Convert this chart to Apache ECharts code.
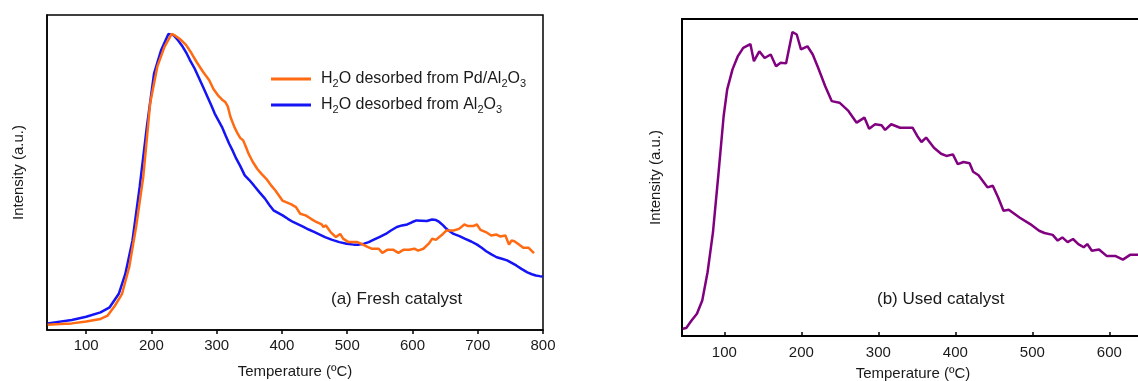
<!DOCTYPE html>
<html>
<head>
<meta charset="utf-8">
<script src="https://cdn.jsdelivr.net/npm/echarts@6/dist/echarts.min.js"></script>
<style>
  html, body { margin: 0; padding: 0; background: #fff; }
  #chart { width: 1138px; height: 381px; }
</style>
</head>
<body>
<div id="chart"></div>
<script>
// (a) Fresh catalyst: H2O desorbed from Pd/Al2O3
const pdTemp = [41, 60, 78, 100, 122, 133, 144, 155, 166, 176.5, 187.5, 198, 209, 220, 231, 236, 244, 253, 261, 269.5, 279, 288.6, 295, 302, 308, 313, 317, 321, 327, 332, 336, 340.6, 345, 348.8, 355, 362, 369, 376, 383, 390,
  400.7, 406.2, 414.4, 421.5, 428, 436.3, 444.5, 452.6, 460.9, 463.6, 467.4, 474.5, 482.7, 489.3, 493.7, 501.9, 515.5, 521, 531.9, 537.4, 548.3, 553.8, 562, 570.2, 578.4, 586.6, 594.8, 603, 608.5, 616.7, 624.9, 630.3, 635.8, 646.7, 652.2, 663.1, 671.3, 679.5, 685, 693.2, 698.7, 704.2, 712.4, 720.6, 728.8, 734.2, 742.4, 747.9, 751.7, 756.1, 761.6, 769.8, 778, 786.2];
const pdInt = [1.7, 1.9, 2.1, 2.7, 3.5, 4.6, 7.7, 11.5, 20, 32.7, 48.6, 71.9, 83.6, 89.9, 94, 93.5, 92.3, 90.5, 88, 85, 82, 79.3, 76.5, 74.5, 73.2, 72.4, 71, 67.7, 64.5, 62.4, 61, 60.2, 58, 56, 53.5, 51.2, 49.5, 48, 46, 44.3,
  41.1, 40.6, 39.9, 39.0, 36.9, 36.4, 35.3, 34.3, 33.5, 32.7, 33.2, 31.1, 29.5, 30.5, 29.0, 27.9, 27.9, 27.4, 26.3, 25.8, 25.8, 24.5, 25.5, 25.5, 24.5, 25.5, 25.5, 25.8, 25.2, 25.8, 27.4, 29.0, 28.6, 30.5, 31.6, 31.6, 32.1, 33.5, 33.0, 33.0, 33.5, 31.8, 31.1, 30.0, 30.3, 29.7, 30.0, 27.1, 28.4, 28.2, 27.4, 26.1, 26.1, 24.4];

// (a) Fresh catalyst: H2O desorbed from Al2O3
const alTemp = [41, 78, 100, 122, 136, 150, 160, 171, 182, 193, 204, 215, 226, 234, 241, 248, 254, 259, 266, 272, 279, 286, 292, 297, 303, 308, 314, 319, 325, 330, 336, 343, 350, 357, 366, 374, 381, 387, 394, 401, 409, 417, 425, 433, 441, 450, 458, 466, 477, 488, 499, 510, 518, 526, 533, 540, 550, 559, 567, 576, 584, 592, 599, 606, 614, 622, 630, 636, 641, 647, 652, 658, 663, 672, 680, 690, 699, 706, 713, 721, 729, 737, 745, 752, 759, 767, 776, 783, 789, 795, 800];
const alInt = [2.1, 3.2, 4.2, 5.6, 7.2, 11.5, 17.8, 28.4, 45.4, 64.5, 81.4, 88.9, 94, 93.6, 91.9, 89.9, 87.8, 85.7, 83.1, 80.4, 77.2, 74, 71.2, 68.7, 66.4, 64.5, 61.6, 59.2, 56.7, 54.4, 52.1, 49.1, 47.6, 45.9, 43.6, 41.7, 39.6, 38, 37.2, 36.4, 35.3, 34.3, 33.5, 32.7, 31.9, 31.1, 30.3, 29.5, 28.6, 27.9, 27.4, 27.1, 27.1, 27.4, 27.9, 28.6, 29.6, 30.5, 31.6, 32.7, 33.2, 33.5, 34.2, 34.8, 34.7, 34.6, 35.1, 34.9, 34.3, 33.2, 32.1, 31.2, 30.5, 29.8, 29, 28.1, 27.1, 26.1, 25, 24, 23.1, 22.6, 22.1, 21.3, 20.5, 19.4, 18.3, 17.7, 17.3, 17.1, 17];

// (b) Used catalyst
const usedTemp = [45.8, 50.5, 57.4, 64.4, 71.3, 78.2, 85.2, 92.1, 99.1, 103.7, 110.6, 117.6, 124.5, 133.8, 138.4, 145.4, 152.3, 160.2, 167.1, 173.1, 180.1, 188.4, 194, 199.5, 207.9, 214.8, 221.8, 231, 239.4, 249.5, 261.1, 271.8, 281.9, 288, 295.8, 304.2, 308.8, 316.7, 328.2, 344.4, 350.5, 356, 362, 372.2, 381.5, 388.4, 396.8, 403.2, 410.6, 418.5, 423.1, 430.1, 441.7, 448.6, 455.6, 462.5, 469.4, 483.3, 497.2, 508.8, 515.7, 526.4, 532.9, 538.9, 545.8, 552.8, 559.7, 566.7, 571.3, 577.3, 586.6, 596.8, 608.3, 617.6, 626.9, 637.5, 645];
const usedInt = [2.3, 2.5, 4.9, 7, 11.2, 20.1, 32.7, 50.5, 69.4, 77.8, 84.1, 88.3, 90.9, 92.1, 86.7, 89.8, 87.7, 88.8, 85.1, 86.2, 86, 95.9, 95.1, 90.4, 91.4, 88.8, 84.6, 78.8, 74.1, 73.6, 71, 67.3, 68.9, 65.4, 66.8, 66.5, 65, 66.8, 65.7, 65.7, 63.1, 61.2, 62.6, 59.4, 57.5, 56.8, 57.3, 54.2, 54.9, 54.5, 51.8, 50.7, 46.9, 47.4, 43.7, 39.5, 39.8, 37.4, 35.3, 33.2, 32.5, 31.9, 30.1, 31.1, 29.6, 30.6, 29, 28, 29, 26.9, 27.3, 25.2, 25.2, 24.1, 25.6, 25.6, 25.8];

const freshTicks = [100, 200, 300, 400, 500, 600, 700, 800];
const usedTicks = [100, 200, 300, 400, 500, 600];
const seriesNames = ['H2O desorbed from Pd/Al2O3', 'H2O desorbed from Al2O3', 'Used catalyst'];
const panelLabels = ['(a) Fresh catalyst', '(b) Used catalyst'];
const xTitle = 'Temperature (\u00baC)';
const yTitle = 'Intensity (a.u.)';

const FONT = '"Liberation Sans", Arial, sans-serif';
const INK = '#1a1a1a';
const zip = (xs, ys) => xs.map((x, i) => [x, ys[i]]);

// Wrap digits in formula names as subscripts for rich text
function chemRich(name) {
  return name.split(/(\d)/).filter(s => s.length)
    .map(s => /^\d$/.test(s) ? '{s|' + s + '}' : '{m|' + s + '}').join('');
}

function xAxisFor(gridIndex, min, max, ticks, inside, width, nameGap, margin) {
  return {
    type: 'value', gridIndex, min, max,
    name: xTitle, nameLocation: 'middle', nameGap,
    nameTextStyle: { fontFamily: FONT, fontSize: 15, color: INK },
    axisLine: { show: true, lineStyle: { color: '#000', width } },
    axisTick: { show: true, inside, length: 4, customValues: ticks, lineStyle: { color: '#000', width: 1.5 } },
    axisLabel: { customValues: ticks, margin, fontFamily: FONT, fontSize: 15, color: INK },
    splitLine: { show: false }
  };
}
function yAxisFor(gridIndex, width, nameGap) {
  return {
    type: 'value', gridIndex, min: 0, max: 100,
    name: yTitle, nameLocation: 'middle', nameGap,
    nameTextStyle: { fontFamily: FONT, fontSize: 15, color: INK },
    axisLine: { show: true, lineStyle: { color: '#000', width } },
    axisTick: { show: false }, axisLabel: { show: false }, splitLine: { show: false }
  };
}

const chart = echarts.init(document.getElementById('chart'), null, { renderer: 'canvas' });
chart.setOption({
  animation: false,
  backgroundColor: '#fff',
  grid: [
    { left: 47, top: 15, width: 496, height: 315, outerBoundsMode: 'none', containLabel: false,
      show: true, borderColor: '#000', borderWidth: 1.5, backgroundColor: 'transparent' },
    { left: 682, top: 19, width: 462, height: 317, outerBoundsMode: 'none', containLabel: false,
      show: true, borderColor: '#000', borderWidth: 2, backgroundColor: 'transparent' }
  ],
  xAxis: [
    xAxisFor(0, 40, 800, freshTicks, false, 1.5, 34, 8),
    xAxisFor(1, 45, 645, usedTicks, true, 2, 30, 9)
  ],
  yAxis: [
    yAxisFor(0, 1.5, 21),
    yAxisFor(1, 2, 19)
  ],
  legend: {
    data: [seriesNames[0], seriesNames[1]],
    orient: 'vertical', left: 266, top: 66,
    itemGap: 8, itemWidth: 40, itemHeight: 3, icon: 'rect',
    selectedMode: false,
    formatter: chemRich,
    textStyle: {
      fontFamily: FONT, fontSize: 16, color: INK, padding: [0, 0, 0, 5],
      rich: {
        m: { fontFamily: FONT, fontSize: 16, color: INK, lineHeight: 20 },
        s: { fontFamily: FONT, fontSize: 11, color: INK, lineHeight: 10, verticalAlign: 'bottom' }
      }
    }
  },
  graphic: [
    { type: 'text', left: 331, top: 291, style: { text: panelLabels[0], font: '17px ' + FONT, fill: INK } },
    { type: 'text', left: 877, top: 291, style: { text: panelLabels[1], font: '17px ' + FONT, fill: INK } }
  ],
  series: [
    { name: seriesNames[1], type: 'line', xAxisIndex: 0, yAxisIndex: 0, data: zip(alTemp, alInt),
      showSymbol: false, color: '#1414F5', lineStyle: { color: '#1414F5', width: 2.5 } },
    { name: seriesNames[0], type: 'line', xAxisIndex: 0, yAxisIndex: 0, data: zip(pdTemp, pdInt),
      showSymbol: false, color: '#FF6A12', lineStyle: { color: '#FF6A12', width: 2.5 } },
    { name: seriesNames[2], type: 'line', xAxisIndex: 1, yAxisIndex: 1, data: zip(usedTemp, usedInt),
      showSymbol: false, color: '#800080', lineStyle: { color: '#800080', width: 2.5 } }
  ]
});
</script>
</body>
</html>
